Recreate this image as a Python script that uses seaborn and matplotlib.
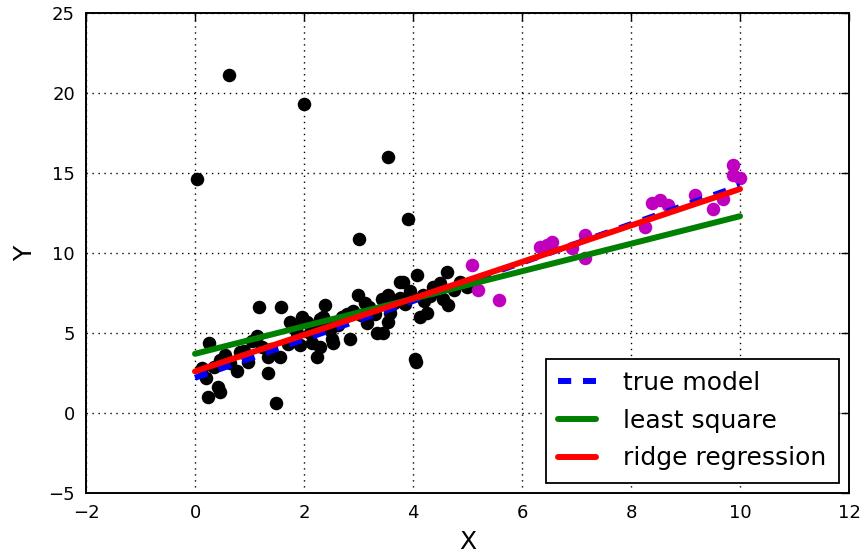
import numpy as np
import pandas as pd
import matplotlib
matplotlib.use("Agg")
import matplotlib.pyplot as plt
import seaborn as sns

# training points (x <= 5)
x_train = [0.04, 0.62, 2.0, 3.54, 3.91, 3.01, 4.04, 4.06, 1.49, 0.24,
           0.26, 0.42, 0.46, 1.17, 1.58, 1.34, 0.77, 0.46, 0.13, 0.2,
           1.56, 0.83, 0.97, 0.64, 1.34, 1.23, 1.96, 1.93, 2.24, 2.39,
           2.29, 2.51, 2.7, 2.15, 1.83, 1.14, 2.99, 3.54, 3.76, 2.84,
           3.34, 2.35, 2.9, 3.2, 3.43, 1.87, 2.11, 2.29, 2.53, 2.48,
           3.16, 3.58, 4.07, 4.62, 3.82, 4.26, 4.13, 3.45, 3.54, 4.37,
           4.55, 4.86, 4.99, 4.31, 3.76, 3.58, 4.64, 1.05, 0.55, 1.7,
           2.62, 3.05, 0.9, 4.2, 4.45, 3.3, 2.05, 1.4, 0.35, 4.75,
           2.45, 2.78, 3.12, 3.66, 3.95, 4.18, 2.2, 1.75, 3.85, 4.5]
y_train = [14.6, 21.1, 19.3, 16.0, 12.1, 10.9, 3.4, 3.2, 0.6, 1.0,
           4.4, 1.6, 1.3, 6.6, 6.6, 2.5, 2.6, 3.3, 2.8, 2.2,
           3.5, 3.8, 3.2, 3.1, 3.5, 4.1, 6.0, 4.25, 3.5, 6.75,
           5.9, 4.6, 6.0, 4.4, 5.4, 4.8, 7.4, 7.4, 8.2, 4.6,
           5.0, 6.0, 6.4, 6.6, 7.1, 5.0, 5.0, 4.1, 4.4, 5.2,
           5.6, 6.25, 8.6, 8.8, 8.2, 6.25, 6.0, 5.0, 5.7, 7.9,
           7.1, 8.2, 7.9, 7.3, 7.2, 6.6, 6.75, 4.5, 3.6, 4.3,
           5.5, 6.1, 3.9, 7.0, 7.6, 6.2, 5.7, 4.0, 2.9, 7.7,
           5.6, 6.2, 6.9, 6.9, 7.6, 7.4, 5.2, 5.7, 6.8, 8.1]

# test points (x > 5)
x_test = [9.87, 9.87, 10.0, 9.17, 9.69, 9.5, 8.39, 8.53, 8.68, 8.26,
          7.16, 7.16, 6.92, 6.55, 6.33, 5.08, 5.19, 5.58, 6.45]
y_test = [15.5, 14.9, 14.7, 13.6, 13.4, 12.75, 13.1, 13.3, 13.0, 11.6,
          11.1, 9.7, 10.3, 10.7, 10.4, 9.25, 7.7, 7.06, 10.5]

# fitted lines, evaluated at the ends of the range
line_x = [0, 10]
true_y = [2.2, 14.2]
ls_y = [3.7, 12.3]
ridge_y = [2.6, 14.0]

plt.rcParams["lines.scale_dashes"] = False
sns.set_style("white")
plt.rcParams["font.family"] = ["DejaVu Sans"]
plt.rcParams["text.color"] = "k"
plt.rcParams["axes.labelcolor"] = "k"

fig = plt.figure(figsize=(8.63, 5.57), dpi=100)
ax = fig.add_axes([86 / 863, 1 - 493 / 557, (849 - 86) / 863, (493 - 13) / 557])

sns.scatterplot(x=x_train, y=y_train, color="k", s=95, linewidth=0, ax=ax, zorder=3)
sns.scatterplot(x=x_test, y=y_test, color="#bf00bf", s=95, linewidth=0, ax=ax, zorder=3)

lines = pd.DataFrame({"x": line_x, "true": true_y, "ls": ls_y, "ridge": ridge_y})
sns.lineplot(data=lines, x="x", y="true", color="b", lw=4.3,
             label="true model", ax=ax, zorder=4)
ax.lines[-1].set_dashes((9.5, 8.5))
sns.lineplot(data=lines, x="x", y="ls", color="g", lw=4.3, label="least square", ax=ax, zorder=4)
sns.lineplot(data=lines, x="x", y="ridge", color="r", lw=4.3, label="ridge regression", ax=ax, zorder=5)

ax.set_xlim(-2, 12)
ax.set_ylim(-5, 25)
ax.set_xticks(range(-2, 13, 2))
ax.set_yticks(range(-5, 26, 5))
ax.set_xlabel("X", fontsize=18, labelpad=6)
ax.set_ylabel("Y", fontsize=18, labelpad=8)
ax.tick_params(direction="in", length=6, width=1, labelsize=13, top=True, right=True,
               colors="k", labelcolor="k", pad=8)
for sp in ax.spines.values():
    sp.set_visible(True)
    sp.set_color("k")
    sp.set_linewidth(1.4)
ax.grid(True, color="k", linestyle=(0, (1, 3.3)), linewidth=1)
ax.set_axisbelow(True)

leg = ax.legend(loc="lower right", fontsize=18, fancybox=False, framealpha=1,
                edgecolor="k", handlelength=1.5, borderpad=0.5, labelspacing=0.55,
                handletextpad=1.1, borderaxespad=0.4)
leg.get_frame().set_linewidth(1.3)
leg.legend_handles[0].set_dashes((9.5, 8.5))
for t in leg.get_texts():
    t.set_color("k")

fig.savefig("out.png", dpi=100)
